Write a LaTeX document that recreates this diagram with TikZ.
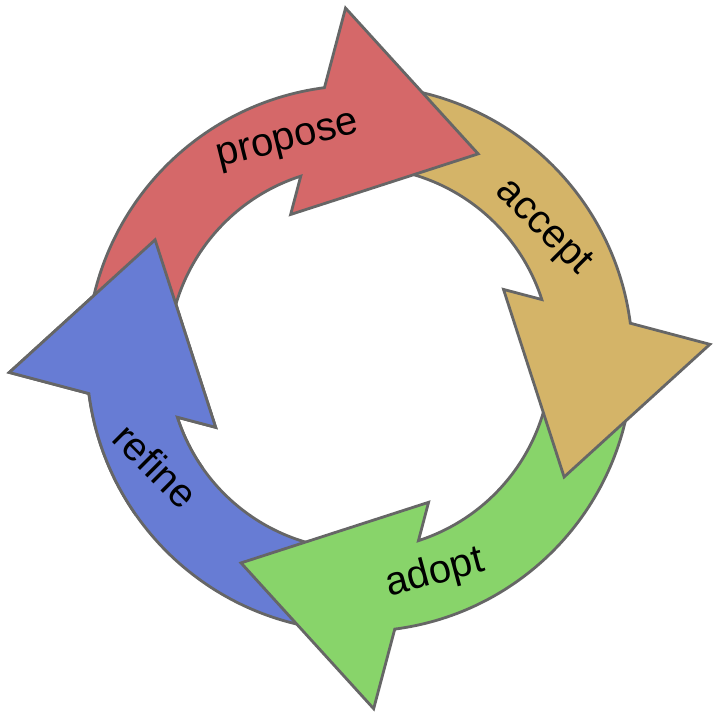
\documentclass[tikz,border=0pt]{standalone}
\usepackage{fontspec}
\setmainfont{Liberation Sans}
\usepackage{tikz}

\definecolor{proposeRed}{RGB}{213,104,105}
\definecolor{acceptTan}{RGB}{212,180,104}
\definecolor{adoptGreen}{RGB}{136,212,106}
\definecolor{refineBlue}{RGB}{103,124,212}
\definecolor{rimGray}{RGB}{102,102,102}

% one curved arrow of the cycle, #1 = reference angle
\newcommand{\cyclearrow}[1]{%
	(#1+85:273) arc[start angle=#1+85, end angle=#1+7.4, radius=273]
	-- (#1+2.3:350.6) -- (#1-30.1:236.4) -- (#1+25.6:159.6) -- (#1+17.9:191.5)
	arc[start angle=#1+17.9, end angle=#1+85, radius=191.5] -- cycle}

\begin{document}
\begin{tikzpicture}[
		%Global config
		x=1pt, y=1pt,
		line width=2.8pt,
		%Styles
		Arrow/.style={
			draw=rimGray,
			line join=miter,
		},
		Label/.style={
			font=\fontsize{40}{48}\selectfont,
			inner sep=0pt,
		}
		]
	
		\useasboundingbox (0,0) rectangle (720,722);
	
		\begin{scope}[shift={(359.6,363.6)}]
			% bodies, each head lies on the tail of the next one
			\foreach \ang/\col in {180/refineBlue, -90/adoptGreen, 0/acceptTan, 90/proposeRed}
				\filldraw[Arrow, fill=\col] \cyclearrow{\ang};
			% blue head again, over the red tail
			\begin{scope}
				\clip (0,0) -- (140:420) arc[start angle=140, end angle=215, radius=420] -- cycle;
				\filldraw[Arrow, fill=refineBlue] \cyclearrow{180};
			\end{scope}
			
			\node[Label, rotate=14] (propose) at (108.3:227) {propose};
			\node[Label, rotate=-45] (accept) at (35.5:225) {accept};
			\node[Label, rotate=15] (adopt) at (-70.7:228) {adopt};
			\node[Label, rotate=-45] (refine) at (207.7:230) {refine};
		\end{scope}
	\end{tikzpicture}
\end{document}
